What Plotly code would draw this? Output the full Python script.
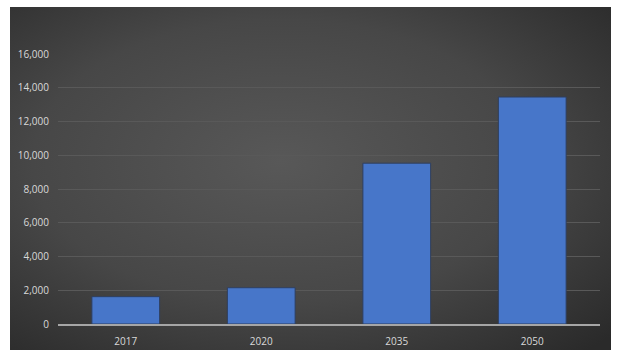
import base64
import plotly.graph_objects as go

years = ["2017", "2020", "2035", "2050"]
values = [1620, 2150, 9530, 13450]
y_ticks = [0, 2000, 4000, 6000, 8000, 10000, 12000, 14000, 16000]

W, H = 622, 359
L, R, T, B = 58, 22, 54, 35
pw, ph = W - L - R, H - T - B

svg = """<svg xmlns='http://www.w3.org/2000/svg' width='600' height='343' preserveAspectRatio='none'>
<defs><radialGradient id='g' cx='45%' cy='45%' r='75%'>
<stop offset='0' stop-color='#585858'/><stop offset='0.55' stop-color='#474747'/><stop offset='1' stop-color='#2a2a2a'/>
</radialGradient></defs><rect width='600' height='343' fill='url(#g)'/></svg>"""
src = "data:image/svg+xml;base64," + base64.b64encode(svg.encode()).decode()

bg_x0, bg_x1, bg_y0, bg_y1 = 10, 611, 7, 350

fig = go.Figure()
fig.add_trace(go.Bar(
    x=years, y=values, width=0.5,
    marker=dict(color="#4776c9", line=dict(color="#2f3f5f", width=1)),
    hoverinfo="x+y",
))

fig.update_layout(
    width=W, height=H,
    margin=dict(l=L, r=R, t=T, b=B),
    paper_bgcolor="white", plot_bgcolor="rgba(0,0,0,0)",
    showlegend=False,
    font=dict(family="Open Sans", size=10, color="#d9d9d9"),
    images=[dict(
        source=src, xref="paper", yref="paper",
        x=(bg_x0 - L) / pw, y=(H - B - bg_y0) / ph,
        sizex=(bg_x1 - bg_x0) / pw, sizey=(bg_y1 - bg_y0) / ph,
        xanchor="left", yanchor="top", sizing="stretch", layer="below",
    )],
    xaxis=dict(showgrid=False, showline=True, linecolor="#a6a6a6", linewidth=1.5,
               ticks="", ticklabelstandoff=7, tickfont=dict(size=10, color="#d9d9d9")),
    yaxis=dict(range=[0, 16000], tickvals=y_ticks, tickformat=",d",
               showgrid=True, gridcolor="#595959", gridwidth=1,
               zeroline=False, showline=False, ticks="", ticklabelstandoff=8,
               tickfont=dict(size=10, color="#d9d9d9")),
    bargap=0.5,
)

fig.write_html("out.html")
